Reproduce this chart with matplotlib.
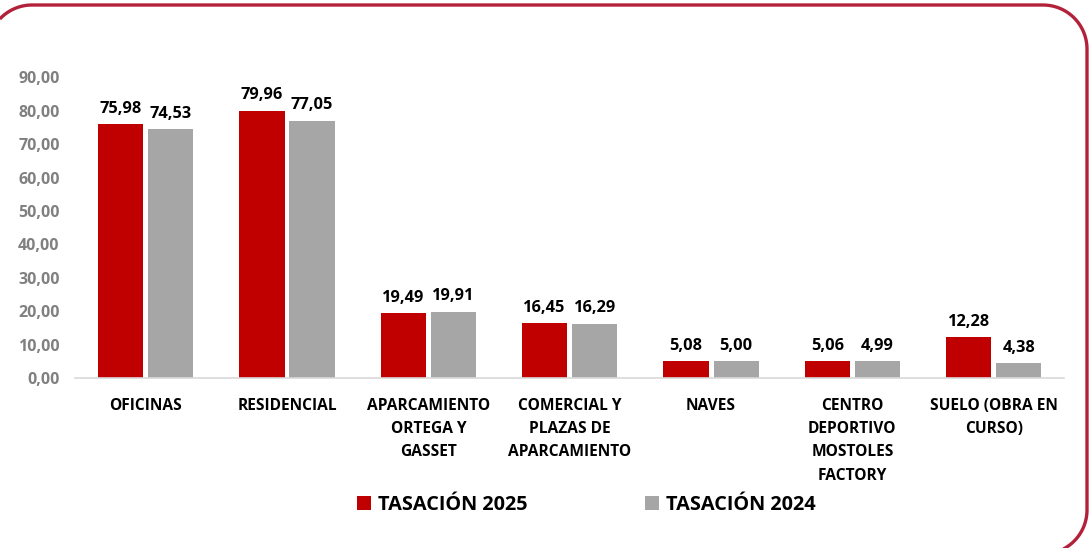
import numpy as np
import matplotlib.pyplot as plt
from matplotlib.path import Path
from matplotlib.patches import PathPatch
from matplotlib.transforms import IdentityTransform

categorias = ['OFICINAS', 'RESIDENCIAL', 'APARCAMIENTO\nORTEGA Y\nGASSET',
              'COMERCIAL Y\nPLAZAS DE\nAPARCAMIENTO', 'NAVES',
              'CENTRO\nDEPORTIVO\nMOSTOLES\nFACTORY', 'SUELO (OBRA EN\nCURSO)']
tasacion_2025 = [75.98, 79.96, 19.49, 16.45, 5.08, 5.06, 12.28]
tasacion_2024 = [74.53, 77.05, 19.91, 16.29, 5.00, 4.99, 4.38]
series = ['TASACIÓN 2025', 'TASACIÓN 2024']
colores = ['#C00000', '#A6A6A6']

plt.rcParams['font.family'] = ['Open Sans', 'DejaVu Sans']
plt.rcParams['font.weight'] = 'bold'

def fmt(v):
    return f'{v:.2f}'.replace('.', ',')

fig = plt.figure(figsize=(10.92, 5.48), dpi=100)
ax = fig.add_axes([0.0687, 0.310, 0.906, 0.549])

x = np.arange(len(categorias))
w = 0.32
g = 0.035
b1 = ax.bar(x - (w + g) / 2, tasacion_2025, w, color=colores[0], label=series[0])
b2 = ax.bar(x + (w + g) / 2, tasacion_2024, w, color=colores[1], label=series[1])
for bars in (b1, b2):
    for r in bars:
        ax.text(r.get_x() + r.get_width() / 2, r.get_height() + 2.2, fmt(r.get_height()),
                ha='center', va='bottom', fontsize=11.8, fontweight='bold', color='black')

ax.set_xlim(-0.5, len(categorias) - 0.5)
ax.set_ylim(0, 90)
ax.set_yticks(np.arange(0, 91, 10))
ax.set_yticklabels([fmt(v) for v in np.arange(0, 91, 10)], color='#808080',
                   fontsize=11.5, fontweight='bold')
ax.set_xticks(x)
ax.set_xticklabels(categorias, fontsize=11.2, fontweight='bold', va='top',
                   linespacing=1.62)
ax.tick_params(axis='both', length=0)
ax.tick_params(axis='x', pad=14)
ax.tick_params(axis='y', pad=11)
for s in ['top', 'right', 'left']:
    ax.spines[s].set_visible(False)
ax.spines['bottom'].set_color('#D9D9D9')
ax.spines['bottom'].set_linewidth(1.2)

fig.legend(handles=[b1, b2], labels=series, loc='center', bbox_to_anchor=(0.537, 0.078),
           ncol=2, frameon=False, handlelength=0.7, handleheight=0.7,
           handletextpad=0.35, columnspacing=5.9, prop={'weight': 'bold', 'size': 14.3})

# marco redondeado (solo la parte visible: arriba, derecha y esquinas)
rad = 44
x_l, x_r, y_t, y_b = -12, 1087, 543, -6
t1 = np.radians(np.linspace(137, 90, 20))
t2 = np.radians(np.linspace(90, 0, 30))
t3 = np.radians(np.linspace(0, -90, 30))
vx = np.concatenate([x_l + rad + rad * np.cos(t1), x_r - rad + rad * np.cos(t2),
                     x_r - rad + rad * np.cos(t3)])
vy = np.concatenate([y_t - rad + rad * np.sin(t1), y_t - rad + rad * np.sin(t2),
                     y_b + rad + rad * np.sin(t3)])
marco = PathPatch(Path(np.column_stack([vx, vy])), transform=IdentityTransform(),
                  facecolor='none', edgecolor='#B3203A', linewidth=2.4, clip_on=False)
fig.add_artist(marco)

fig.savefig('out.png', dpi=100)
